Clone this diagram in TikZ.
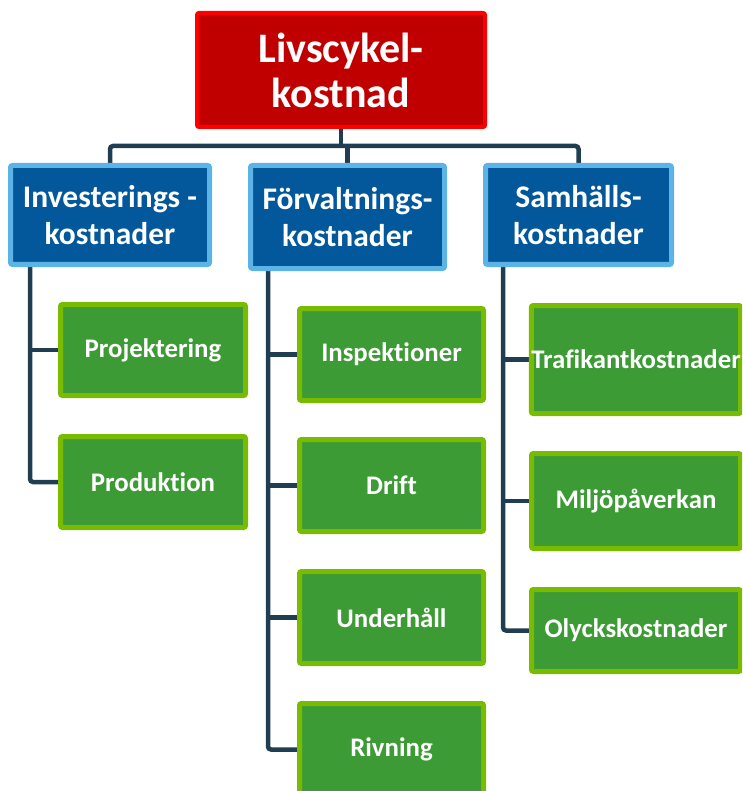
\documentclass[tikz,border=0pt]{standalone}
\usepackage{fontspec}
\setmainfont{Carlito}[RawFeature={-liga}]
\definecolor{lcRed}{HTML}{C00000}
\definecolor{lcRedEdge}{HTML}{FF0000}
\definecolor{lcBlue}{HTML}{02589A}
\definecolor{lcBlueEdge}{HTML}{5CB4E6}
\definecolor{lcGreen}{HTML}{3D9B35}
\definecolor{lcGreenEdge}{HTML}{78BB00}
\definecolor{lcLink}{HTML}{1F3E52}
\pgfdeclarelayer{bg}
\pgfsetlayers{bg,main}
\tikzset{
  box/.style={draw, rounded corners=2pt, inner sep=0pt, outer sep=0pt,
    align=center, text=white},
  topbox/.style={box, fill=lcRed, draw=lcRedEdge, line width=4pt,
    font=\bfseries\fontsize{42}{45}\selectfont},
  catbox/.style={box, fill=lcBlue, draw=lcBlueEdge, line width=5pt,
    font=\bfseries\fontsize{31.5}{37}\selectfont},
  itembox/.style={box, fill=lcGreen, draw=lcGreenEdge, line width=5pt,
    font=\bfseries\fontsize{26.8}{32}\selectfont},
  link/.style={draw=lcLink, line width=4.5pt, rounded corners=3pt}
}
\begin{document}
\begin{tikzpicture}[x=1pt,y=-1pt]
  \useasboundingbox (0,0) rectangle (742,791);
  \clip (0,0) rectangle (742,791);

  % top level
  \node[topbox, minimum width=288, minimum height=114] (lcc) at (341,70)
    {Livscykel-\\kostnad};

  % cost categories
  \node[catbox, minimum width=199, minimum height=99] (inv) at (110,215)
    {Investerings -\\kostnader};
  \node[catbox, minimum width=194, minimum height=103] (forv) at (347.5,217)
    {Förvaltnings-\\kostnader};
  \node[catbox, minimum width=186, minimum height=99] (samh) at (578.5,215)
    {Samhälls-\\kostnader};

  % investment items
  \node[itembox, minimum width=185, minimum height=91] (proj) at (153,350) {Projektering};
  \node[itembox, minimum width=185, minimum height=91] (prod) at (153,482) {Produktion};

  % management items
  \node[itembox, minimum width=184, minimum height=92] (insp) at (391.5,354.5) {Inspektioner};
  \node[itembox, minimum width=184, minimum height=92] (drift) at (391.5,485.5) {Drift};
  \node[itembox, minimum width=184, minimum height=92] (underh) at (391.5,617.5) {Underhåll};
  \node[itembox, minimum width=184, minimum height=92] (rivn) at (391.5,749.5) {Rivning};

  % societal items
  \node[itembox, minimum width=209, minimum height=108] (trafik) at (636,359.5) {Trafikantkostnader};
  \node[itembox, minimum width=209, minimum height=95] (miljo) at (636,501) {Miljöpåverkan};
  \node[itembox, minimum width=209, minimum height=82] (olyck) at (636,630.5) {Olyckskostnader};

  % horizontal bus level and spine start points below each category
  \coordinate (bus) at (0,146);
  \coordinate (s1) at (30,262);
  \coordinate (s2) at (268,262);
  \coordinate (s3) at (503,262);

  \begin{pgfonlayer}{bg}
    % top level to categories
    \draw[link] (lcc.south) -- (lcc.south |- bus);
    \draw[link] (inv.north) -- (inv.north |- bus) -| (samh.north);
    \draw[link] (forv.north) -- (forv.north |- bus);

    % investment spine
    \draw[link] (s1) |- (prod.west);
    \draw[link] (s1 |- proj.west) -- (proj.west);

    % management spine
    \draw[link] (s2) |- (rivn.west);
    \draw[link] (s2 |- insp.west) -- (insp.west);
    \draw[link] (s2 |- drift.west) -- (drift.west);
    \draw[link] (s2 |- underh.west) -- (underh.west);

    % societal spine
    \draw[link] (s3) |- (olyck.west);
    \draw[link] (s3 |- trafik.west) -- (trafik.west);
    \draw[link] (s3 |- miljo.west) -- (miljo.west);
  \end{pgfonlayer}
\end{tikzpicture}
\end{document}
